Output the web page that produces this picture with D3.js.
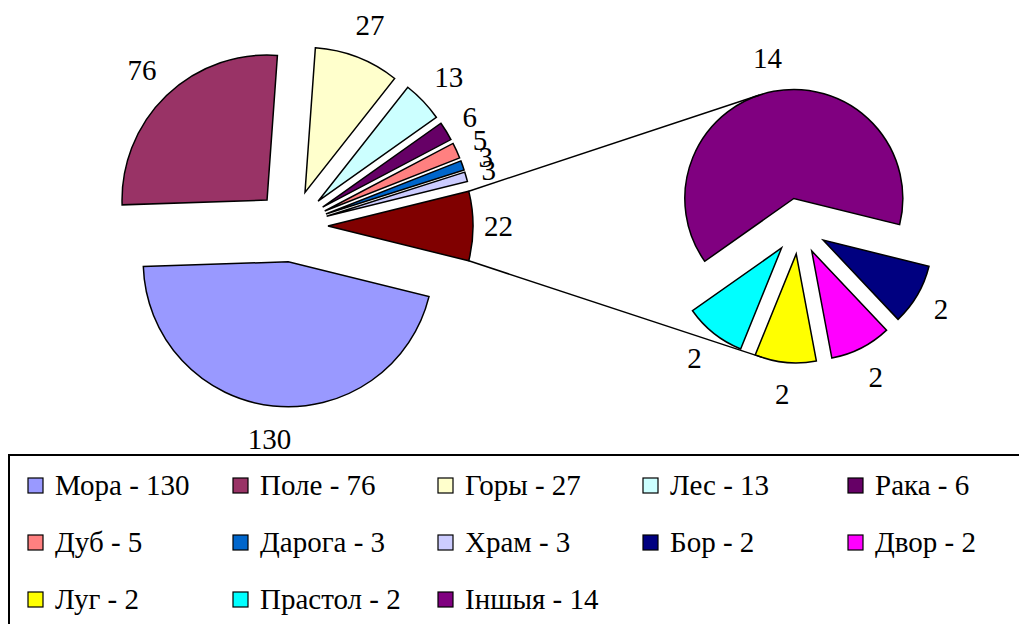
<!DOCTYPE html>
<html>
<head>
<meta charset="utf-8">
<script src="https://cdn.jsdelivr.net/npm/d3@7"></script>
<style>
  body { margin: 0; background: #fff; }
  svg { display: block; }
</style>
</head>
<body>
<svg id="chart" width="1019" height="624"></svg>
<script>
// Primary pie categories
const mainNames  = ["Мора", "Поле", "Горы", "Лес", "Рака", "Дуб", "Дарога", "Храм"];
const mainValues = [130, 76, 27, 13, 6, 5, 3, 3];
const mainColors = ["#9999FF", "#993366", "#FFFFCC", "#CCFFFF", "#660066", "#FF8080", "#0066CC", "#CCCCFF"];

// Secondary pie categories (grouped into one slice of the primary pie)
const splitNames  = ["Бор", "Двор", "Луг", "Прастол", "Іншыя"];
const splitValues = [2, 2, 2, 2, 14];
const splitColors = ["#000080", "#FF00FF", "#FFFF00", "#00FFFF", "#800080"];
const otherColor  = "#800000";

const svg = d3.select("#chart");
const FONT = "Liberation Serif";
const FONT_SIZE = 29;

function styleText(sel) {
  return sel.style("font-family", FONT).style("font-size", FONT_SIZE + "px").style("fill", "#000");
}

const mainCenter = [292, 226], mainR = 145, mainExplode = 36;
const splitCenter = [799, 226], splitR = 109, splitExplode = 28;

const otherValue = d3.sum(splitValues);
const total = d3.sum(mainValues) + otherValue;
const otherAngle = 2 * Math.PI * otherValue / total;
// grouped slice faces the secondary pie (3 o'clock)
const startAngle = Math.PI / 2 + otherAngle / 2;

const pie = d3.pie()
  .sort(null)
  .value(d => d.value)
  .startAngle(startAngle)
  .endAngle(startAngle + 2 * Math.PI);

const mainData = mainNames.map((n, i) => ({ name: n, value: mainValues[i], color: mainColors[i] }))
  .concat([{ name: "__other", value: otherValue, color: otherColor }]);
const splitData = splitNames.map((n, i) => ({ name: n, value: splitValues[i], color: splitColors[i] }));

const mainArcs = pie(mainData);
const splitArcs = pie(splitData);

const dir = a => [Math.sin(a), -Math.cos(a)];
const mid = d => (d.startAngle + d.endAngle) / 2;

function tipOf(d, center, explode) {
  const u = dir(mid(d));
  return [center[0] + explode * u[0], center[1] + explode * u[1]];
}

function drawPie(arcs, center, r, explode) {
  const arc = d3.arc().innerRadius(0).outerRadius(r);
  const g = svg.append("g");
  g.selectAll("path")
    .data(arcs)
    .join("path")
    .attr("transform", d => {
      const t = tipOf(d, center, explode);
      return `translate(${t[0]},${t[1]})`;
    })
    .attr("d", arc)
    .attr("fill", d => d.data.color)
    .attr("stroke", "#000")
    .attr("stroke-width", 1.5)
    .attr("stroke-linejoin", "miter");
}

drawPie(mainArcs, mainCenter, mainR, mainExplode);
drawPie(splitArcs, splitCenter, splitR, splitExplode);

// Connector lines from the grouped slice, tangent to the secondary slices
const otherArc = mainArcs[mainArcs.length - 1];
const otherTip = tipOf(otherArc, mainCenter, mainExplode);
const cornerTop = [otherTip[0] + mainR * dir(otherArc.startAngle)[0], otherTip[1] + mainR * dir(otherArc.startAngle)[1]];
const cornerBot = [otherTip[0] + mainR * dir(otherArc.endAngle)[0], otherTip[1] + mainR * dir(otherArc.endAngle)[1]];

function tangent(P, upper) {
  let best = null;
  splitArcs.forEach(d => {
    const Q = tipOf(d, splitCenter, splitExplode);
    const vx = Q[0] - P[0], vy = Q[1] - P[1];
    const dist = Math.hypot(vx, vy);
    const base = Math.atan2(vy, vx);
    const alpha = Math.asin(splitR / dist);
    const ang = upper ? base - alpha : base + alpha;
    const rad = upper ? ang - Math.PI / 2 : ang + Math.PI / 2;
    const T = [Q[0] + splitR * Math.cos(rad), Q[1] + splitR * Math.sin(rad)];
    if (!best || (upper ? ang < best.ang : ang > best.ang)) best = { ang, T };
  });
  return best.T;
}

const topEnd = tangent(cornerTop, true);
const botEnd = tangent(cornerBot, false);
svg.append("g")
  .selectAll("line")
  .data([[cornerTop, topEnd], [cornerBot, botEnd]])
  .join("line")
  .attr("x1", d => d[0][0]).attr("y1", d => d[0][1])
  .attr("x2", d => d[1][0]).attr("y2", d => d[1][1])
  .attr("stroke", "#000")
  .attr("stroke-width", 1.5);

// Value labels outside each slice
function drawLabels(arcs, center, r, explode) {
  const g = svg.append("g");
  arcs.forEach(d => {
    const u = dir(mid(d));
    const t = styleText(g.append("text").attr("text-anchor", "middle").text(d.value));
    const w = t.node().getComputedTextLength();
    const dist = r + explode + 11 + Math.abs(u[0]) * w / 2 + Math.abs(u[1]) * 20;
    const cx = center[0] + dist * u[0];
    const cy = center[1] + dist * u[1];
    t.attr("x", cx).attr("y", cy + FONT_SIZE * 0.34);
  });
}

drawLabels(mainArcs, mainCenter, mainR, mainExplode);
drawLabels(splitArcs, splitCenter, splitR, splitExplode);

// Legend
const legendItems = mainData.slice(0, mainNames.length).concat(splitData);
const legend = svg.append("g");
legend.append("rect")
  .attr("x", 9).attr("y", 455)
  .attr("width", 1100).attr("height", 300)
  .attr("fill", "none")
  .attr("stroke", "#000")
  .attr("stroke-width", 2);

const perRow = 5, colW = 205, rowH = 57, x0 = 28, y0 = 478, sw = 15;
const items = legend.selectAll("g.item")
  .data(legendItems)
  .join("g")
  .attr("class", "item")
  .attr("transform", (d, i) => `translate(${x0 + (i % perRow) * colW},${y0 + Math.floor(i / perRow) * rowH})`);

items.append("rect")
  .attr("width", sw).attr("height", sw)
  .attr("fill", d => d.color)
  .attr("stroke", "#000")
  .attr("stroke-width", 1.2);

styleText(items.append("text")
  .attr("x", 27)
  .attr("y", 16.5)
  .text(d => `${d.name} - ${d.value}`));
</script>
</body>
</html>
